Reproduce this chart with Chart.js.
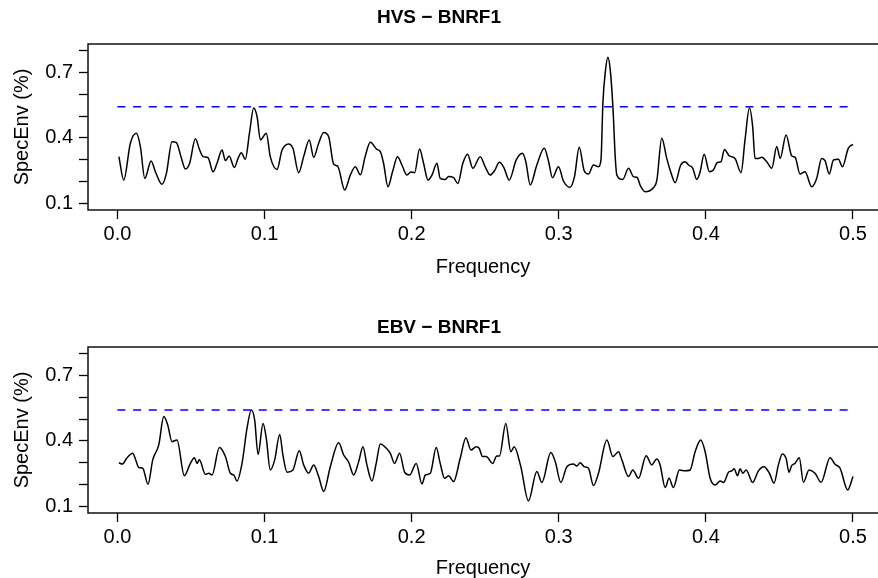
<!DOCTYPE html>
<html><head><meta charset="utf-8">
<script src="https://cdn.jsdelivr.net/npm/chart.js@4.4.1/dist/chart.umd.min.js"></script>
<style>
html,body{margin:0;padding:0;background:#fff;}
#wrap{position:relative;width:878px;height:578px;overflow:hidden;}
canvas{position:absolute;left:0;}
</style></head><body>
<div id="wrap">
<canvas id="c1" width="878" height="289" style="top:0px"></canvas>
<canvas id="c2" width="878" height="289" style="top:289px"></canvas>
</div>
<script>
// ---- data ----
const panelTitles = ["HVS \u2212 BNRF1", "EBV \u2212 BNRF1"];
const xAxisTitle = "Frequency";
const yAxisTitle = "SpecEnv (%)";
const xTickLabels = ["0.0", "0.1", "0.2", "0.3", "0.4", "0.5"];
const yTickLabels = ["0.1", "0.4", "0.7"];
const thresholdFreq = [0, 0.5];
const hvsThreshold = 0.542;
const ebvThreshold = 0.541;

const hvsFreq = [0.001,0.0043,0.0088,0.0129,0.0156,0.0186,0.0229,0.0258,0.0303,0.0333,0.0371,0.0401,0.0432,0.0462,0.0491,0.053,0.0559,0.0582,0.0616,0.065,0.0677,0.0711,0.0734,0.0759,0.0795,0.082,0.0842,0.0869,0.0899,0.0926,0.0949,0.0972,0.1012,0.1039,0.1085,0.1119,0.1164,0.1193,0.1232,0.1266,0.1304,0.1334,0.1368,0.1402,0.1436,0.147,0.1497,0.1545,0.1583,0.1617,0.1651,0.1685,0.1719,0.1764,0.1787,0.1809,0.1839,0.187,0.1904,0.1934,0.1968,0.1995,0.202,0.2054,0.2081,0.2111,0.2138,0.2172,0.2194,0.2228,0.2251,0.2285,0.2314,0.2348,0.238,0.2416,0.2466,0.25,0.2534,0.2563,0.2597,0.2629,0.2663,0.2711,0.2753,0.2776,0.2806,0.2851,0.2901,0.293,0.2957,0.2998,0.3032,0.3075,0.3107,0.3139,0.3173,0.3202,0.3236,0.327,0.3287,0.33,0.3318,0.3334,0.335,0.3368,0.3385,0.3395,0.3435,0.3474,0.3508,0.3531,0.3558,0.3587,0.3643,0.3667,0.37,0.3734,0.3764,0.3791,0.3829,0.3859,0.3882,0.3911,0.3938,0.3961,0.3988,0.4024,0.4051,0.4078,0.4103,0.4126,0.416,0.4198,0.4239,0.4266,0.4296,0.4318,0.4334,0.4357,0.438,0.4414,0.4448,0.4482,0.4505,0.4545,0.4584,0.4607,0.464,0.4674,0.4719,0.4753,0.4787,0.481,0.4839,0.4867,0.4901,0.4928,0.4968,0.5];
const hvsSpecEnv = [0.315,0.208,0.376,0.421,0.361,0.216,0.295,0.246,0.189,0.239,0.383,0.379,0.315,0.259,0.285,0.396,0.345,0.315,0.310,0.246,0.285,0.345,0.297,0.318,0.266,0.307,0.333,0.303,0.429,0.536,0.498,0.391,0.421,0.315,0.257,0.345,0.373,0.353,0.242,0.315,0.391,0.312,0.376,0.425,0.406,0.280,0.272,0.163,0.231,0.269,0.232,0.318,0.380,0.348,0.338,0.285,0.178,0.246,0.315,0.277,0.231,0.245,0.242,0.350,0.285,0.208,0.231,0.285,0.216,0.211,0.224,0.219,0.193,0.285,0.326,0.262,0.315,0.269,0.231,0.251,0.289,0.262,0.208,0.300,0.330,0.292,0.186,0.277,0.353,0.295,0.219,0.269,0.204,0.175,0.224,0.358,0.251,0.236,0.277,0.269,0.300,0.560,0.710,0.768,0.710,0.542,0.300,0.231,0.211,0.262,0.224,0.221,0.178,0.155,0.173,0.208,0.399,0.307,0.239,0.196,0.277,0.292,0.277,0.262,0.211,0.246,0.326,0.246,0.254,0.288,0.292,0.348,0.318,0.307,0.242,0.391,0.536,0.452,0.307,0.307,0.312,0.292,0.262,0.361,0.307,0.414,0.318,0.312,0.236,0.246,0.178,0.216,0.307,0.297,0.236,0.300,0.303,0.269,0.353,0.371];

const ebvFreq = [0.001,0.0032,0.0066,0.0104,0.0122,0.0145,0.0172,0.0208,0.024,0.0281,0.0315,0.0342,0.0371,0.0405,0.0455,0.0496,0.0523,0.0541,0.0557,0.0598,0.0621,0.0643,0.0693,0.0734,0.0768,0.0791,0.0813,0.0847,0.0881,0.091,0.0933,0.0956,0.099,0.1012,0.1039,0.1069,0.1103,0.1125,0.1153,0.1193,0.1236,0.1266,0.13,0.1334,0.1368,0.1402,0.1447,0.1504,0.1538,0.1572,0.1606,0.164,0.1669,0.1696,0.173,0.1759,0.1787,0.1828,0.1855,0.1884,0.1918,0.1952,0.1986,0.2031,0.207,0.2093,0.2127,0.2167,0.2194,0.2224,0.2251,0.2285,0.233,0.2369,0.2403,0.2439,0.2459,0.2482,0.2507,0.255,0.2579,0.2597,0.264,0.2674,0.2697,0.2742,0.2794,0.2851,0.2885,0.2946,0.2976,0.3014,0.3055,0.31,0.3123,0.3146,0.3173,0.3202,0.3236,0.327,0.3327,0.3368,0.3406,0.3429,0.3474,0.3503,0.3542,0.3594,0.3632,0.3666,0.3689,0.3723,0.375,0.3779,0.382,0.3859,0.3893,0.3927,0.3965,0.3995,0.4029,0.4063,0.4097,0.412,0.4154,0.4176,0.4192,0.4215,0.4233,0.4251,0.4274,0.4318,0.4357,0.4395,0.4432,0.4463,0.4493,0.452,0.4545,0.4565,0.4583,0.4606,0.4635,0.4663,0.4701,0.4742,0.4783,0.4844,0.4878,0.4912,0.4964,0.5];
const ebvSpecEnv = [0.301,0.295,0.324,0.344,0.318,0.279,0.276,0.203,0.314,0.382,0.511,0.473,0.397,0.405,0.242,0.298,0.324,0.298,0.314,0.248,0.253,0.245,0.370,0.329,0.253,0.245,0.218,0.298,0.458,0.541,0.495,0.339,0.480,0.412,0.268,0.314,0.430,0.336,0.258,0.268,0.356,0.291,0.253,0.291,0.238,0.170,0.283,0.392,0.336,0.303,0.245,0.306,0.374,0.291,0.218,0.298,0.386,0.367,0.344,0.298,0.344,0.258,0.245,0.298,0.204,0.245,0.253,0.370,0.298,0.230,0.242,0.215,0.321,0.415,0.359,0.374,0.367,0.329,0.329,0.298,0.332,0.332,0.480,0.351,0.374,0.283,0.127,0.261,0.211,0.347,0.306,0.211,0.283,0.295,0.286,0.301,0.283,0.276,0.197,0.253,0.404,0.329,0.351,0.314,0.238,0.268,0.230,0.333,0.291,0.318,0.291,0.188,0.230,0.188,0.268,0.264,0.268,0.351,0.404,0.351,0.230,0.200,0.218,0.211,0.258,0.264,0.273,0.242,0.273,0.253,0.268,0.211,0.264,0.283,0.253,0.208,0.291,0.341,0.321,0.258,0.288,0.298,0.324,0.212,0.268,0.253,0.212,0.324,0.294,0.276,0.177,0.238];

// ---- rendering ----
Chart.defaults.color = '#000';
Chart.defaults.font.family = '"Liberation Sans", Arial, Helvetica, sans-serif';

const framePlugin = {
  id: 'frame',
  afterDatasetsDraw(chart) {
    const {ctx, chartArea: a} = chart;
    ctx.save();
    ctx.strokeStyle = '#111';
    ctx.lineWidth = 1.5;
    ctx.beginPath();
    ctx.moveTo(a.right + 2, a.top);
    ctx.lineTo(a.left, a.top);
    ctx.lineTo(a.left, a.bottom);
    ctx.lineTo(a.right + 2, a.bottom);
    ctx.stroke();
    ctx.restore();
  }
};

function makePanel(canvasId, title, freq, vals, thr, lay) {
  const pts = freq.map((f, i) => ({x: f, y: vals[i]}));
  const thrPts = thresholdFreq.map(f => ({x: f, y: thr}));
  return new Chart(document.getElementById(canvasId), {
    type: 'line',
    data: {
      datasets: [
        {data: thrPts, borderColor: '#0000FF', borderWidth: 1.5, borderDash: [8, 7.7], pointRadius: 0, tension: 0},
        {data: pts, borderColor: '#000', borderWidth: 1.5, pointRadius: 0, cubicInterpolationMode: 'monotone'}
      ]
    },
    options: {
      responsive: false,
      animation: false,
      devicePixelRatio: 1,
      events: [],
      layout: {padding: 0},
      plugins: {
        legend: {display: false},
        tooltip: {enabled: false},
        title: {
          display: true, text: title,
          font: {size: 19, weight: 'bold', lineHeight: 1.2},
          padding: {top: lay.titleTop, bottom: lay.titleBottom}
        }
      },
      scales: {
        x: {
          type: 'linear', min: -0.02, max: 0.517,
          afterFit(s) { s.height = lay.xHeight; },
          border: {display: false},
          grid: {drawOnChartArea: false, drawTicks: true, tickLength: 9, tickColor: '#000', tickWidth: 1.3},
          ticks: {
            stepSize: 0.1, includeBounds: false, padding: 3, maxRotation: 0,
            font: {size: 20, lineHeight: 1.2},
            callback(v) { const s = (Math.round(v * 10) / 10).toFixed(1); return xTickLabels.includes(s) ? s : ''; }
          },
          title: {display: true, text: xAxisTitle, font: {size: 20, lineHeight: 1}, padding: {top: 0, bottom: lay.xTitlePad}}
        },
        y: {
          type: 'linear', min: 0.072, max: 0.828,
          afterFit(s) { s.width = 88; },
          border: {display: false},
          grid: {drawOnChartArea: false, drawTicks: true, tickLength: 9, tickColor: '#000', tickWidth: 1.3},
          ticks: {
            stepSize: 0.1, includeBounds: false, padding: 6, autoSkip: false,
            font: {size: 20, lineHeight: 1.2},
            callback(v) { const s = (Math.round(v * 10) / 10).toFixed(1); return yTickLabels.includes(s) ? s : ''; }
          },
          title: {display: true, text: yAxisTitle, font: {size: 20, lineHeight: 1}, padding: {top: 12, bottom: 0}}
        }
      }
    },
    plugins: [framePlugin]
  });
}

makePanel('c1', panelTitles[0], hvsFreq, hvsSpecEnv, hvsThreshold, {titleTop: 6.6, titleBottom: 14.6, xHeight: 79, xTitlePad: 12});
makePanel('c2', panelTitles[1], ebvFreq, ebvSpecEnv, ebvThreshold, {titleTop: 27.6, titleBottom: 7.6, xHeight: 65, xTitlePad: 0});
</script>
</body></html>
